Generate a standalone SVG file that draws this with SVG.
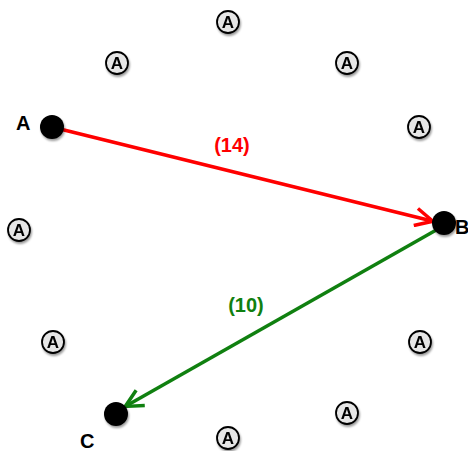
<svg xmlns="http://www.w3.org/2000/svg" width="468" height="451" viewBox="0 0 468 451">
<defs>
<filter id="sh" x="-50%" y="-50%" width="200%" height="200%"><feGaussianBlur in="SourceAlpha" stdDeviation="1.2"/><feOffset dx="1" dy="2" result="b"/><feComponentTransfer><feFuncA type="linear" slope="0.4"/></feComponentTransfer><feMerge><feMergeNode/><feMergeNode in="SourceGraphic"/></feMerge></filter>
<marker id="arR" viewBox="0 0 12 12" refX="10.5" refY="6" markerWidth="6" markerHeight="6" orient="auto" markerUnits="strokeWidth"><path d="M1,1 L11,6 L1,11" fill="none" stroke="#ff0000" stroke-width="2"/></marker>
<marker id="arG" viewBox="0 0 12 12" refX="10.5" refY="6" markerWidth="6" markerHeight="6" orient="auto" markerUnits="strokeWidth"><path d="M1,1 L11,6 L1,11" fill="none" stroke="#108010" stroke-width="2"/></marker>
</defs>
<style>
.a circle{fill:#e6e6e6;stroke:#000;stroke-width:1.8}
.a text{font-family:"Liberation Sans",Arial,sans-serif;font-weight:bold;font-size:17px;text-anchor:middle;fill:#000}
.n circle{fill:#000}
.lbl{font-family:"Liberation Sans",Arial,sans-serif;font-weight:bold;font-size:20px;fill:#000}
.w{font-family:"Liberation Sans",Arial,sans-serif;font-weight:bold;font-size:20px;text-anchor:middle}
</style>
<g id="a1" class="a" filter="url(#sh)"><circle cx="228" cy="22" r="11"/><text x="228" y="28">A</text></g>
<g id="a2" class="a" filter="url(#sh)"><circle cx="117" cy="63" r="11"/><text x="117" y="69">A</text></g>
<g id="a3" class="a" filter="url(#sh)"><circle cx="347" cy="63" r="11"/><text x="347" y="69">A</text></g>
<g id="a4" class="a" filter="url(#sh)"><circle cx="419" cy="127" r="11"/><text x="419" y="133">A</text></g>
<g id="a5" class="a" filter="url(#sh)"><circle cx="19" cy="230" r="11"/><text x="19" y="236">A</text></g>
<g id="a6" class="a" filter="url(#sh)"><circle cx="53" cy="342" r="11"/><text x="53" y="348">A</text></g>
<g id="a7" class="a" filter="url(#sh)"><circle cx="420" cy="342" r="11"/><text x="420" y="348">A</text></g>
<g id="a8" class="a" filter="url(#sh)"><circle cx="347" cy="413" r="11"/><text x="347" y="419">A</text></g>
<g id="a9" class="a" filter="url(#sh)"><circle cx="228" cy="438" r="11"/><text x="228" y="444">A</text></g>
<g id="connectors">
<line x1="60" y1="129" x2="432" y2="221" stroke="#ff0000" stroke-width="3.5" marker-end="url(#arR)"/>
<line x1="438" y1="229" x2="126" y2="406" stroke="#108010" stroke-width="3.5" marker-end="url(#arG)"/>
<text class="w" x="232" y="152" fill="#ff0000">(14)</text>
<text class="w" x="246" y="312" fill="#108010">(10)</text>
</g>
<g id="A" class="n"><circle cx="52" cy="127" r="12" filter="url(#sh)"/><text class="lbl" x="16" y="130">A</text></g>
<g id="B" class="n"><circle cx="444" cy="223" r="12" filter="url(#sh)"/><text class="lbl" x="455" y="234" font-size="19">B</text></g>
<g id="C" class="n"><circle cx="116" cy="414" r="12" filter="url(#sh)"/><text class="lbl" x="80" y="448">C</text></g>
</svg>
